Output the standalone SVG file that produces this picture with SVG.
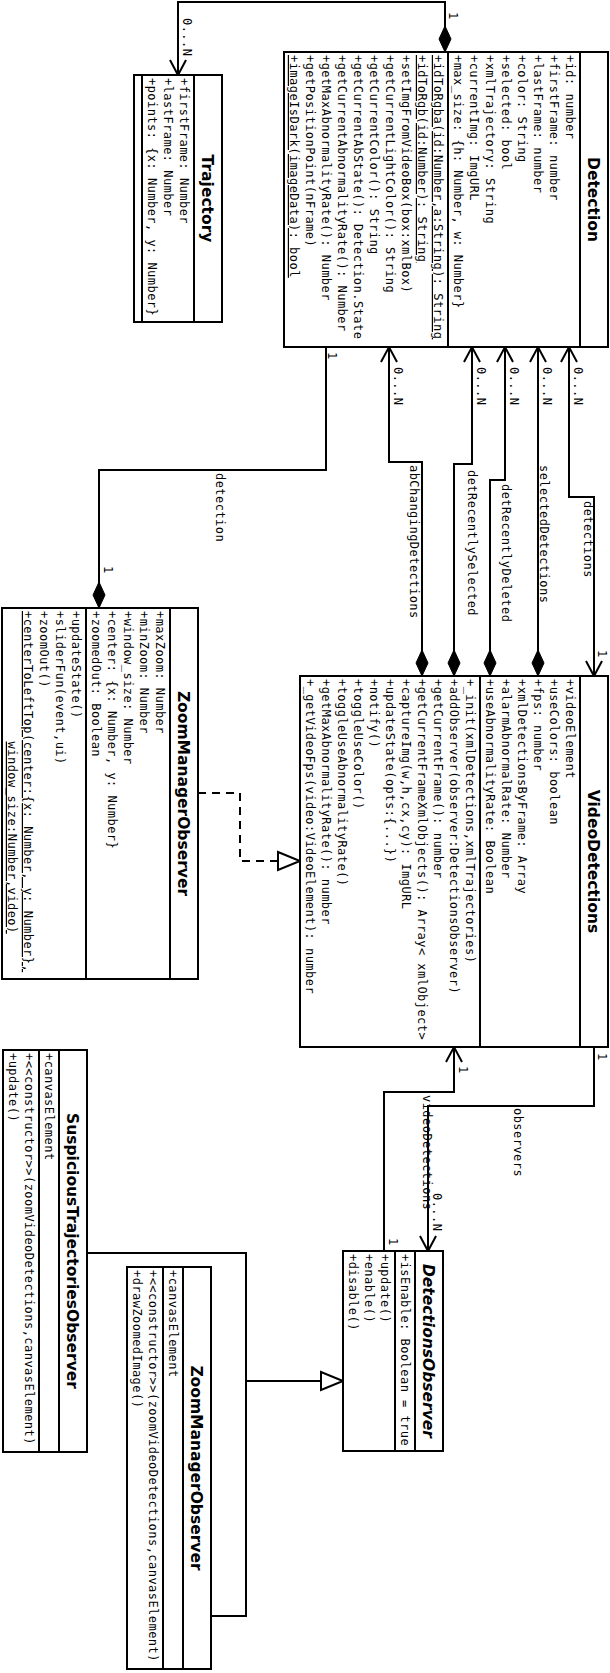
<svg xmlns="http://www.w3.org/2000/svg" width="610" height="1673" viewBox="0 0 610 1673">
<defs>
<style>
.box{fill:#fff;stroke:#000;stroke-width:2}
.sep{fill:none;stroke:#000;stroke-width:2}
.t{font-family:"DejaVu Sans Mono","Liberation Mono",monospace;font-size:12px;letter-spacing:0.46px;fill:#000}
.h{font-family:"DejaVu Sans","Liberation Sans",sans-serif;font-weight:bold;font-size:15.5px;text-anchor:middle;fill:#000}
.i{font-style:italic}
.u{text-decoration:underline}
.ln{fill:none;stroke:#000;stroke-width:2}
.dash{stroke-dasharray:8 6}
</style>
<marker id="dia" markerUnits="userSpaceOnUse" viewBox="-2 -10 30 20" markerWidth="30" markerHeight="20" refX="26" refY="0" orient="auto-start-reverse">
<path d="M0,0 L13,-6 L26,0 L13,6 Z" fill="#000" stroke="#000" stroke-width="1"/>
</marker>
<marker id="arr" markerUnits="userSpaceOnUse" viewBox="-2 -10 20 20" markerWidth="20" markerHeight="20" refX="15" refY="0" orient="auto-start-reverse">
<path d="M0,-8 L15,0 L0,8" fill="none" stroke="#000" stroke-width="2"/>
</marker>
<marker id="tri" markerUnits="userSpaceOnUse" viewBox="-2 -12 27 24" markerWidth="27" markerHeight="24" refX="22" refY="0" orient="auto">
<path d="M0,-9 L22,0 L0,9 Z" fill="#fff" stroke="#000" stroke-width="2"/>
</marker>
</defs>
<rect width="610" height="1673" fill="#fff"/>
<g transform="translate(610,0) rotate(90)">

<g id="connectors">
<path class="ln" d="M52,165 L2,165 L2,432 L75,432" marker-start="url(#dia)" marker-end="url(#arr)"/>
<path class="ln" d="M347,221 L462,221 L462,188 L676,188" marker-start="url(#arr)" marker-end="url(#dia)"/>
<path class="ln" d="M347,138 L464,138 L464,156 L676,156" marker-start="url(#arr)" marker-end="url(#dia)"/>
<path class="ln" d="M347,105 L480,105 L480,120 L676,120" marker-start="url(#arr)" marker-end="url(#dia)"/>
<path class="ln" d="M347,72 L676,72" marker-start="url(#arr)" marker-end="url(#dia)"/>
<path class="ln" d="M347,41 L497,41 L497,16 L676,16" marker-start="url(#arr)" marker-end="url(#arr)"/>
<path class="ln" d="M347,284 L470,284 L470,511 L608,511" marker-end="url(#dia)"/>
<path class="ln" d="M1047,16 L1106,16 L1106,182 L1251,182" marker-end="url(#arr)"/>
<path class="ln" d="M1251,226 L1092,226 L1092,156 L1047,156" marker-end="url(#arr)"/>
<path class="ln dash" d="M793,412 L793,370 L861,370 L861,310" marker-end="url(#tri)"/>
<path class="ln" d="M1253,523 L1253,364 L1616,364 L1616,399"/>
<path class="ln" d="M1381,364 L1381,267" marker-end="url(#tri)"/>
<text class="t" x="12" y="161">1</text>
<text class="t" x="18" y="427">0...N</text>
<text class="t" x="367" y="216">0...N</text>
<text class="t" x="367" y="133">0...N</text>
<text class="t" x="367" y="100">0...N</text>
<text class="t" x="367" y="67">0...N</text>
<text class="t" x="367" y="36">0...N</text>
<text class="t" x="465" y="200">abChangingDetections</text>
<text class="t" x="470" y="142">detRecentlySelected</text>
<text class="t" x="484" y="108">detRecentlyDeleted</text>
<text class="t" x="465" y="70">selectedDetections</text>
<text class="t" x="501" y="26">detections</text>
<text class="t" x="650" y="12">1</text>
<text class="t" x="352" y="282">1</text>
<text class="t" x="473" y="394">detection</text>
<text class="t" x="566" y="506">1</text>
<text class="t" x="1053" y="12">1</text>
<text class="t" x="1108" y="96">observers</text>
<text class="t" x="1193" y="177">0...N</text>
<text class="t" x="1066" y="151">1</text>
<text class="t" x="1238" y="221">1</text>
<text class="t" x="1095" y="187">videoDetections</text>
</g>

<g id="Detection">
<rect class="box" x="52" y="2" width="295" height="324"/>
<path class="sep" d="M52,30 H347 M52,162 H347"/>
<text class="h" x="199.5" y="22">Detection</text>
<text class="t" x="55" y="44">+id: number</text>
<text class="t" x="55" y="60">+firstFrame: number</text>
<text class="t" x="55" y="76">+lastFrame: number</text>
<text class="t" x="55" y="92">+color: String</text>
<text class="t" x="55" y="108">+selected: bool</text>
<text class="t" x="55" y="124">+xmlTrajectory: String</text>
<text class="t" x="55" y="140">+currentImg: ImgURL</text>
<text class="t" x="55" y="156">+max_size: {h: Number, w: Number}</text>
<text class="t u" x="55" y="176">+idToRgba(id:Number,a:String): String</text>
<text class="t u" x="55" y="192">+idToRgb(id:Number): String</text>
<text class="t" x="55" y="208">+setImgFromVideoBox(box:xmlBox)</text>
<text class="t" x="55" y="224">+getCurrentLightColor(): String</text>
<text class="t" x="55" y="240">+getCurrentColor(): String</text>
<text class="t" x="55" y="256">+getCurrentAbState(): Detection.State</text>
<text class="t" x="55" y="272">+getCurrentAbnormalityRate(): Number</text>
<text class="t" x="55" y="288">+getMaxAbnormalityRate(): Number</text>
<text class="t" x="55" y="304">+getPositionPoint(nFrame)</text>
<text class="t u" x="55" y="320">+imageIsDark(imageData): bool</text>
</g>

<g id="Trajectory">
<rect class="box" x="75" y="388" width="247" height="88"/>
<path class="sep" d="M75,416 H322 M75,468 H322"/>
<text class="h" x="198.5" y="408">Trajectory</text>
<text class="t" x="78" y="430">+firstFrame: Number</text>
<text class="t" x="78" y="446">+lastFrame: Number</text>
<text class="t" x="78" y="462">+points: {x: Number, y: Number}</text>
</g>

<g id="VideoDetections">
<rect class="box" x="676" y="2" width="371" height="308"/>
<path class="sep" d="M676,30 H1047 M676,130 H1047"/>
<text class="h" x="861.5" y="22">VideoDetections</text>
<text class="t" x="679" y="44">+videoElement</text>
<text class="t" x="679" y="60">+useColors: boolean</text>
<text class="t" x="679" y="76">+fps: number</text>
<text class="t" x="679" y="92">+xmlDetectionsByFrame: Array</text>
<text class="t" x="679" y="108">+alarmAbnormalRate: Number</text>
<text class="t" x="679" y="124">+useAbnormalityRate: Boolean</text>
<text class="t" x="679" y="144">+_init(xmlDetections,xmlTrajectories)</text>
<text class="t" x="679" y="160">+addObserver(observer:DetectionsObserver)</text>
<text class="t" x="679" y="176">+getCurrentFrame(): number</text>
<text class="t" x="679" y="192">+getCurrentFrameXmlObjects(): Array&lt; xmlObject&gt;</text>
<text class="t" x="679" y="208">+captureImg(w,h,cx,cy): ImgURL</text>
<text class="t" x="679" y="224">+updateState(opts:{...})</text>
<text class="t" x="679" y="240">+notify()</text>
<text class="t" x="679" y="256">+toggleUseColor()</text>
<text class="t" x="679" y="272">+toggleUseAbnormalityRate()</text>
<text class="t" x="679" y="288">+getMaxAbnormalityRate(): number</text>
<text class="t" x="679" y="304">+_getVideoFps(video:VideoElement): number</text>
</g>

<g id="ZoomManagerObserver1">
<rect class="box" x="608" y="412" width="371" height="196"/>
<path class="sep" d="M608,440 H979 M608,524 H979"/>
<text class="h" x="793.5" y="432">ZoomManagerObserver</text>
<text class="t" x="611" y="454">+maxZoom: Number</text>
<text class="t" x="611" y="470">+minZoom: Number</text>
<text class="t" x="611" y="486">+window_size: Number</text>
<text class="t" x="611" y="502">+center: {x: Number, y: Number}</text>
<text class="t" x="611" y="518">+zoomedOut: Boolean</text>
<text class="t" x="611" y="538">+updateState()</text>
<text class="t" x="611" y="554">+sliderFun(event,ui)</text>
<text class="t" x="611" y="570">+zoomOut()</text>
<text class="t u" x="611" y="586">+centerToLeftTop(center:{x: Number, y: Number},</text>
<text class="t u" x="741.6" y="602">window_size:Number,video)</text>
</g>

<g id="SuspiciousTrajectoriesObserver">
<rect class="box" x="1050" y="523" width="402" height="84"/>
<path class="sep" d="M1050,551 H1452 M1050,571 H1452"/>
<text class="h" x="1251" y="543">SuspiciousTrajectoriesObserver</text>
<text class="t" x="1053" y="565">+canvasElement</text>
<text class="t" x="1053" y="585">+&lt;&lt;constructor&gt;&gt;(zoomVideoDetections,canvasElement)</text>
<text class="t" x="1053" y="601">+update()</text>
</g>

<g id="DetectionsObserver">
<rect class="box" x="1251" y="167" width="200" height="100"/>
<path class="sep" d="M1251,195 H1451 M1251,215 H1451"/>
<text class="h i" x="1351" y="187">DetectionsObserver</text>
<text class="t" x="1254" y="209">+isEnable: Boolean = true</text>
<text class="t" x="1254" y="229">+update()</text>
<text class="t" x="1254" y="245">+enable()</text>
<text class="t" x="1254" y="261">+disable()</text>
</g>

<g id="ZoomManagerObserver2">
<rect class="box" x="1267" y="399" width="402" height="84"/>
<path class="sep" d="M1267,427 H1669 M1267,447 H1669"/>
<text class="h" x="1468" y="419">ZoomManagerObserver</text>
<text class="t" x="1270" y="441">+canvasElement</text>
<text class="t" x="1270" y="461">+&lt;&lt;constructor&gt;&gt;(zoomVideoDetections,canvasElement)</text>
<text class="t" x="1270" y="477">+drawZoomedImage()</text>
</g>

</g>
</svg>
